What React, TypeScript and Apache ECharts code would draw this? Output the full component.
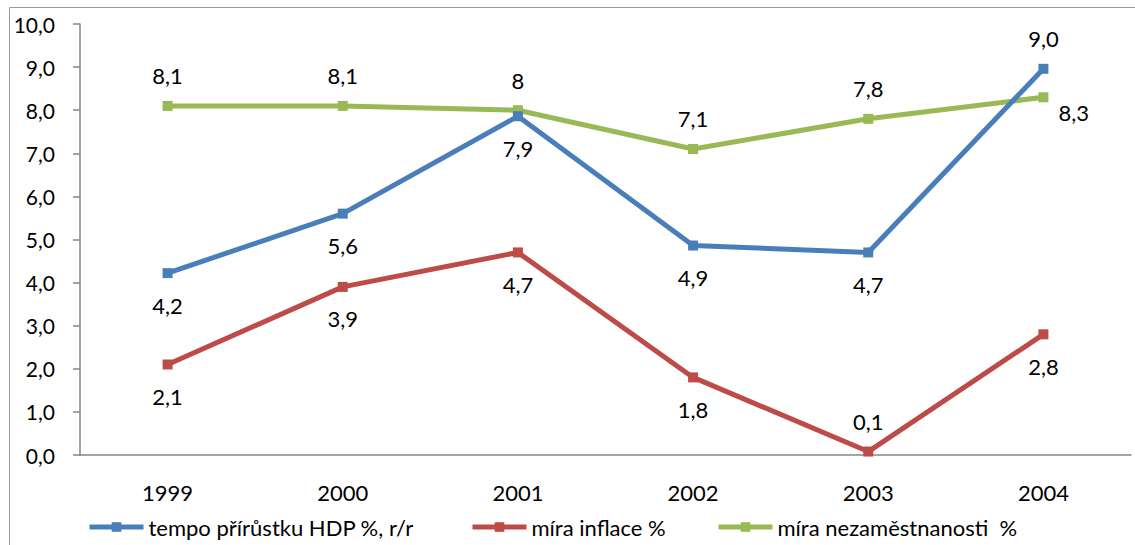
import React, { useEffect, useRef } from "react";
import * as echarts from "echarts";

const years = ["1999", "2000", "2001", "2002", "2003", "2004"];
const hdp = [4.22, 5.6, 7.86, 4.86, 4.7, 8.96];
const inflace = [2.1, 3.9, 4.7, 1.8, 0.08, 2.8];
const nezam = [8.1, 8.1, 8.0, 7.1, 7.8, 8.3];
const names = ["tempo přírůstku HDP %, r/r", "míra inflace %", "míra nezaměstnanosti  %"];
const colors = ["#4A7EBB", "#BE4B48", "#98B954"];

const FONT = "Lato";
const fmt1 = (v: number) => v.toFixed(1).replace(".", ",");
const fmtFree = (v: number) => String(v).replace(".", ",");

export default function App() {
  const ref = useRef<HTMLDivElement>(null);
  useEffect(() => {
    const chart = echarts.init(ref.current!, undefined, { renderer: "svg" });
    const lbl = { fontFamily: FONT, fontSize: 22, color: "#000" };
    const mkSeries = (i: number, data: number[], labelFor: (idx: number) => any, f: (v: number) => string) => ({
      type: "line",
      name: names[i],
      data: data.map((v, idx) => ({ value: v, label: labelFor(idx) })),
      symbol: "rect",
      symbolSize: 10,
      lineStyle: { width: 5, color: colors[i] },
      itemStyle: { color: colors[i] },
      label: {
        show: true,
        ...lbl,
        formatter: (p: any) => f(p.value),
      },
      z: 3 - i,
    });
    const below = { position: "bottom", distance: 16 };
    const above = { position: "top", distance: 14 };
    const legendCommon = {
      top: 516,
      padding: 0,
      itemWidth: 54,
      itemHeight: 12,
      lineStyle: { width: 5 },
      textStyle: { fontFamily: FONT, fontSize: 22, color: "#000" },
    };
    chart.setOption({
      animation: false,
      graphic: [
        {
          type: "rect",
          shape: { x: 9.5, y: 7.5, width: 1300, height: 700 },
          style: { fill: "none", stroke: "#999", lineWidth: 1 },
          silent: true,
        },
      ],
      grid: { left: 80, right: 4, top: 24, bottom: 90 },
      xAxis: {
        type: "category",
        data: years,
        boundaryGap: true,
        axisLine: { lineStyle: { color: "#868686", width: 1.5 } },
        axisTick: { show: false },
        axisLabel: { margin: 26, fontFamily: FONT, fontSize: 22, color: "#000" },
      },
      yAxis: {
        type: "value",
        min: 0,
        max: 10,
        interval: 1,
        splitLine: { show: false },
        axisLine: { show: true, lineStyle: { color: "#868686", width: 1.5 } },
        axisTick: { show: true, length: 7, lineStyle: { color: "#868686", width: 1.5 } },
        axisLabel: { margin: 25, fontFamily: FONT, fontSize: 21, color: "#000", formatter: (v: number) => fmt1(v) },
      },
      legend: [
        { ...legendCommon, left: 87, data: [names[0]] },
        { ...legendCommon, left: 470, data: [names[1]] },
        { ...legendCommon, left: 716, data: [names[2]] },
      ],
      series: [
        mkSeries(0, hdp, (idx) => (idx === 5 ? above : below), fmt1),
        mkSeries(1, inflace, (idx) => (idx === 4 ? above : below), fmt1),
        mkSeries(2, nezam, (idx) => (idx === 5 ? { position: "right", distance: 10, offset: [0, 15] } : above), fmtFree),
      ],
    });
    return () => chart.dispose();
  }, []);
  return (
    <div
      ref={ref}
      style={{ position: "absolute", left: 0, top: 0, width: 1135, height: 545, background: "#fff" }}
    />
  );
}
